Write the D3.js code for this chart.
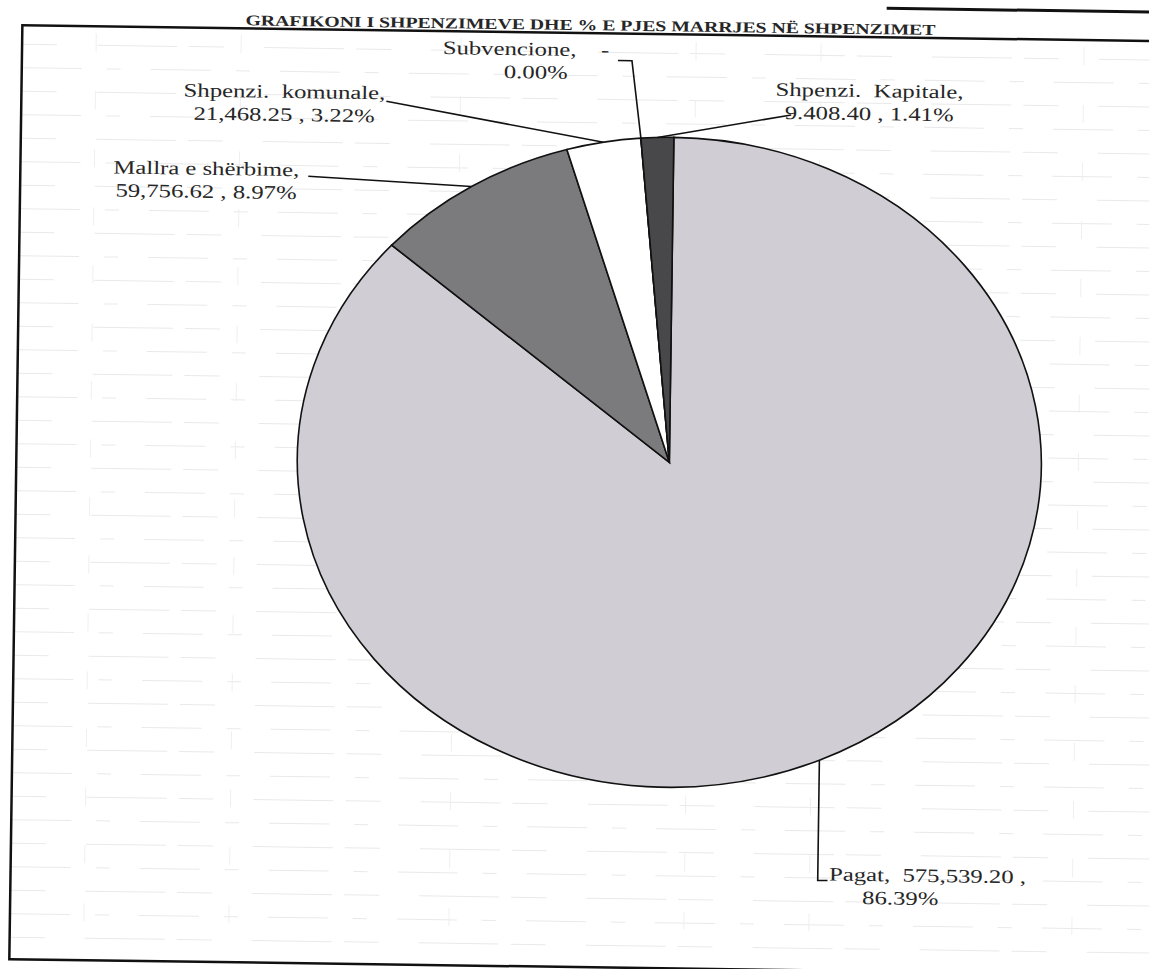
<!DOCTYPE html>
<html>
<head>
<meta charset="utf-8">
<script src="https://cdn.jsdelivr.net/npm/d3@7"></script>
<style>
    body { margin: 0; background: #fff; }
    text { font-family: "Liberation Serif", "DejaVu Serif", serif; fill: #262626; }
</style>
</head>
<body>
<svg id="chart"></svg>
<script>
// chart data
const title = 'GRAFIKONI I SHPENZIMEVE DHE % E PJES MARRJES NË SHPENZIMET';
const categories = ['Pagat', 'Mallra e shërbime', 'Shpenzi.  komunale', 'Subvencione', 'Shpenzi.  Kapitale'];
const values = [575539.20, 59756.62, 21468.25, 0, 9408.40];
const valueLabels = ['575,539.20', '59,756.62', '21,468.25', '-', '9.408.40'];
const percentLabels = ['86.39%', '8.97%', '3.22%', '0.00%', '1.41%'];

const width = 1149;
const height = 969;
const cx = 669, cy = 461;      // pie centre
const rx = 372, ry = 325;      // the scanned pie is an ellipse
const stretch = 1.3;           // scanned text is wider than normal
const fill = d3.scaleOrdinal()
    .domain(categories)
    .range(['#d0ced4', '#7b7b7e', '#ffffff', '#ffffff', '#48484b']);

// where each label sits and how its leader bends (screen layout, not data)
const labelLayout = [
    {x: 933, x2: 906, y: 877, oneLine: true, gap: '  ', leader: 'elbowDown', lx: 833},
    {x: 202, y: 180, leader: 'straight', lx: 304, ly: 180},
    {x: 279, y: 102, leader: 'straight', lx: 381, ly: 104},
    {x: 520, x2: 530, y: 56, oneLine: true, gap: '    ', leader: 'elbowUp', lx: 612, ly: 60},
    {x: 864, y: 93, leader: 'straight', lx: 786, ly: 112}
];

const svg = d3.select('#chart')
    .attr('width', width)
    .attr('height', height);

// the scan is turned a little
const page = svg.append('g')
    .attr('transform', 'rotate(0.8, 575, 485)');

// faint ruled lines of the paper behind the chart
const rules = d3.range(52, 960, 23.5);
page.append('g')
    .selectAll('line')
    .data(rules)
    .enter()
    .append('line')
    .attr('x1', 16)
    .attr('x2', 1160)
    .attr('y1', function(d) { return d; })
    .attr('y2', function(d) { return d; })
    .attr('stroke', '#e9e9e9')
    .attr('stroke-width', 1)
    .attr('stroke-dasharray', function(d, i) { return (i % 2 ? '60,25,14,30' : '35,40,80,12'); });

page.append('g')
    .selectAll('line')
    .data([90, 235, 455, 690, 815, 1078])
    .enter()
    .append('line')
    .attr('x1', function(d) { return d; })
    .attr('x2', function(d) { return d; })
    .attr('y1', 40)
    .attr('y2', 960)
    .attr('stroke', '#efefef')
    .attr('stroke-width', 1)
    .attr('stroke-dasharray', '18,40');

// frame
page.append('path')
    .attr('d', 'M16,33 L1170,33 L1170,967 L16,967 Z')
    .attr('fill', 'none')
    .attr('stroke', '#111')
    .attr('stroke-width', 2.5);

page.append('line')
    .attr('x1', 880).attr('x2', 1170)
    .attr('y1', 4).attr('y2', 4)
    .attr('stroke', '#111')
    .attr('stroke-width', 3);

// title
page.append('text')
    .attr('x', 584)
    .attr('y', 30)
    .attr('text-anchor', 'middle')
    .style('font-size', '15px')
    .style('font-weight', 'bold')
    .attr('textLength', 690)
    .attr('lengthAdjust', 'spacingAndGlyphs')
    .text(title);

// pie
const pie = d3.pie()
    .sort(null)
    .value(function(d, i) { return values[i]; });

const arcs = pie(categories);

const arc = d3.arc()
    .innerRadius(0)
    .outerRadius(rx);

page.append('g')
    .attr('transform', `translate(${cx},${cy}) scale(1,${ry / rx})`)
    .selectAll('path')
    .data(arcs)
    .enter()
    .append('path')
    .attr('d', arc)
    .attr('fill', function(d) { return fill(d.data); })
    .attr('stroke', '#111')
    .attr('stroke-width', 1.6)
    .attr('vector-effect', 'non-scaling-stroke');

// point on the ellipse edge in the middle of a slice
function edgePoint(d) {
    const a = (d.startAngle + d.endAngle) / 2;
    return [cx + rx * Math.sin(a), cy - ry * Math.cos(a)];
}

// leaders
const leader = d3.line();
page.append('g')
    .selectAll('path')
    .data(arcs)
    .enter()
    .append('path')
    .attr('fill', 'none')
    .attr('stroke', '#111')
    .attr('stroke-width', 1.6)
    .attr('d', function(d, i) {
        const p = edgePoint(d);
        const l = labelLayout[i];
        if (l.leader === 'elbowDown') {
            return leader([p, [p[0], l.y], [l.lx, l.y]]);
        }
        if (l.leader === 'elbowUp') {
            return leader([[l.lx, l.ly], [p[0] - 10, l.ly], p]);
        }
        return leader([[l.lx, l.ly], p]);
    });

// labels
const labels = page.append('g')
    .selectAll('text')
    .data(arcs)
    .enter()
    .append('text')
    .attr('text-anchor', 'middle')
    .style('font-size', '19px')
    .style('white-space', 'pre');

labels.each(function(d, i) {
    const l = labelLayout[i];
    const lines = l.oneLine
        ? [categories[i] + ',' + l.gap + valueLabels[i] + (i === 0 ? ' ,' : ''), percentLabels[i]]
        : [categories[i] + ',', valueLabels[i] + ' , ' + percentLabels[i]];
    const t = d3.select(this);
    lines.forEach(function(s, k) {
        const span = t.append('tspan')
            .attr('x', k && l.x2 ? l.x2 : l.x)
            .attr('y', l.y + k * 23)
            .text(s);
        const w = span.node().getComputedTextLength();
        span.attr('textLength', w * stretch).attr('lengthAdjust', 'spacingAndGlyphs');
    });
});
</script>
</body>
</html>
